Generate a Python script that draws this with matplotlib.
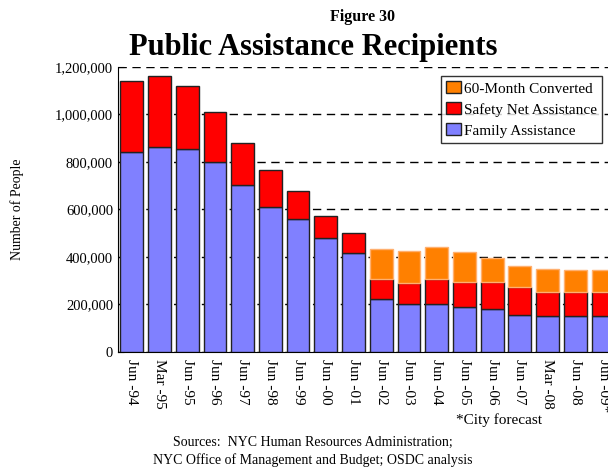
import matplotlib.pyplot as plt
import numpy as np

plt.rcParams['font.family'] = ['Liberation Serif', 'DejaVu Serif']

labels = ['Jun -94', 'Mar -95', 'Jun -95', 'Jun -96', 'Jun -97', 'Jun -98',
          'Jun -99', 'Jun -00', 'Jun -01', 'Jun -02', 'Jun -03', 'Jun -04',
          'Jun -05', 'Jun -06', 'Jun -07', 'Mar -08', 'Jun -08', 'Jun -09*']
family = [841000, 863000, 853000, 799000, 702000, 612000, 561000, 480000, 415000,
          223000, 201000, 202000, 188000, 180000, 156000, 153000, 150000, 153000]
safety_net = [301000, 299000, 268000, 210000, 179000, 153000, 115000, 94000, 85000,
              83000, 91000, 104000, 108000, 116000, 119000, 101000, 101000, 98000]
converted = [0, 0, 0, 0, 0, 0, 0, 0, 0,
             128000, 132000, 136000, 124000, 101000, 88000, 94000, 94000, 94000]

family = np.array(family)
safety_net = np.array(safety_net)
converted = np.array(converted)
x = np.arange(len(labels))
has_conv = converted > 0

fig = plt.figure(figsize=(6.08, 4.68), dpi=100)
ax = fig.add_axes([0.194, 0.248, 0.806, 0.609])

w = 0.82
ax.bar(x, family, w, color='#8080FF', edgecolor='#222222', linewidth=1,
       label='Family Assistance', zorder=3)
ax.bar(x, safety_net, w, bottom=family, color='#FF0000', edgecolor='#222222',
       linewidth=1, label='Safety Net Assistance', zorder=3)
ax.bar(x[has_conv], converted[has_conv], w,
       bottom=(family + safety_net)[has_conv], color='#FF8000',
       edgecolor='#FFB070', linewidth=1, label='60-Month Converted', zorder=3)

ax.set_xlim(-0.5, 17.18)
ax.set_ylim(0, 1200000)
ax.set_yticks(np.arange(0, 1200001, 200000))
ax.set_yticklabels([f'{v:,}' for v in range(0, 1200001, 200000)], fontsize=10.5)
ax.yaxis.grid(True, color='black', linestyle=(0, (6, 4)), linewidth=1, zorder=0)
ax.set_xticks(x)
ax.set_xticklabels(labels, rotation=270, fontsize=11)
ax.tick_params(axis='x', length=0, pad=5)
ax.tick_params(axis='y', direction='in', length=4)
ax.spines['top'].set_visible(False)
ax.spines['right'].set_visible(False)
ax.set_ylabel('Number of People', fontsize=10, labelpad=22)

h, l = ax.get_legend_handles_labels()
leg = ax.legend(h[::-1], l[::-1], loc='upper right', bbox_to_anchor=(0.988, 0.968),
                borderaxespad=0, fontsize=11, frameon=True, fancybox=False,
                edgecolor='black', handlelength=1.0, handleheight=0.8,
                handletextpad=0.15, borderpad=0.35, labelspacing=0.45)
leg.get_frame().set_linewidth(1)
for p in leg.get_patches():
    p.set_edgecolor('#222222')

fig.text(0.597, 0.955, 'Figure 30', ha='center', fontsize=11.5, fontweight='bold')
fig.text(0.515, 0.882, 'Public Assistance Recipients', ha='center', fontsize=22,
         fontweight='bold')
fig.text(0.82, 0.095, '*City forecast', ha='center', fontsize=11)
fig.text(0.515, 0.048, 'Sources:  NYC Human Resources Administration;', ha='center',
         fontsize=10)
fig.text(0.515, 0.008, 'NYC Office of Management and Budget; OSDC analysis',
         ha='center', fontsize=10)

fig.savefig('out.png', dpi=100)
